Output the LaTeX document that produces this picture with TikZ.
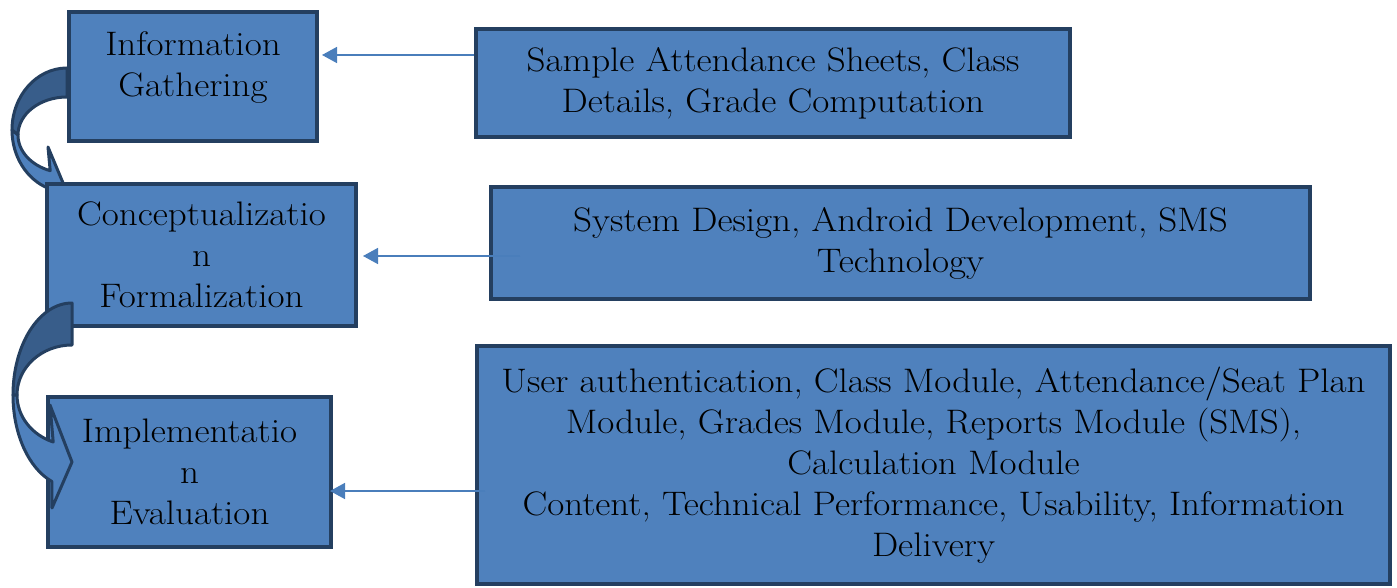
\documentclass[tikz,border=0pt]{standalone}
\usepackage{fontspec}
\setmainfont{Latin Modern Roman}[FakeStretch=1.09]
\usetikzlibrary{arrows.meta,positioning}
\definecolor{boxblue}{HTML}{4F81BD}
\definecolor{boxedge}{HTML}{243F60}
\definecolor{turnblue}{HTML}{385D8A}
\definecolor{linkblue}{HTML}{4A7EBB}

\begin{document}
\begin{tikzpicture}[x=0.5pt, y=-0.5pt,
    stage/.style={draw=boxedge, fill=boxblue, line width=2pt, align=center,
                  inner sep=2pt, font=\fontsize{17}{20.5}\selectfont},
    arr/.style={-{Triangle[length=7.5pt,width=8pt]}, linkblue, line width=0.8pt},
    backface/.style={draw=boxedge, fill=turnblue, line width=1.5pt, line join=round},
    frontface/.style={backface, fill=boxblue}]
  \useasboundingbox (0,0) rectangle (1397,588);

  % stages on the left, with the turning arrows between them
  \node[stage, minimum width=124pt, minimum height=64.5pt] (g1) at (193,76.5)
    {\smash{\begin{tabular}{@{}c@{}}Information\\Gathering\end{tabular}}};
  \draw[backface] (67,68) arc[start angle=270, end angle=180, x radius=55, y radius=62]
    -- (18,135) arc[start angle=180, end angle=270, x radius=49, y radius=38] -- cycle;
  \draw[frontface] (12,130) arc[start angle=180, end angle=110, x radius=55, y radius=62]
    -- (48,215) -- (66,190) -- (48,147) -- (50.2,170.7)
    arc[start angle=110, end angle=180, x radius=49, y radius=38] -- cycle;
  \node[stage, minimum width=154.5pt, minimum height=71pt] (g2) at (201.5,255) {Conceptualizatio\\n\\Formalization};
  \node[stage, minimum width=141.5pt, minimum height=75pt] (g3) at (189.5,472) {Implementatio\\n\\Evaluation};
  \draw[backface] (72,303) arc[start angle=270, end angle=180, x radius=59, y radius=92]
    -- (17,395) arc[start angle=180, end angle=270, x radius=55, y radius=50] -- cycle;
  \draw[frontface] (13,395) arc[start angle=180, end angle=110, x radius=59, y radius=92]
    -- (52,508) -- (72,462) -- (50,405) -- (53.2,442)
    arc[start angle=110, end angle=180, x radius=55, y radius=50] -- cycle;

  % inputs on the right
  \node[stage, minimum width=297pt, minimum height=54pt] (rA) at (773,83) {Sample Attendance Sheets, Class\\Details, Grade Computation};
  \node[stage, minimum width=409.5pt, minimum height=56pt] (rB) at (900.5,243) {System Design, Android Development, SMS\\Technology};
  \node[stage, minimum width=456.5pt, minimum height=119pt] (rC) at (933.5,465) {User authentication, Class Module, Attendance/Seat Plan\\Module, Grades Module, Reports Module (SMS),\\Calculation Module\\Content, Technical Performance, Usability, Information\\Delivery};

  \coordinate (a1) at ([yshift=-14pt]rA.north west);
  \coordinate (b1) at ([yshift=-35.5pt]rB.north west);
  \coordinate (c1) at ([yshift=-73.5pt]rC.north west);
  \draw[arr, shorten >=1.5pt] (a1) -- (a1 -| g1.east);
  \draw[arr, shorten <=-15.5pt, shorten >=2.5pt] (b1) -- (b1 -| g2.east);
  \draw[arr, shorten <=-5pt, shorten >=-1.5pt] (c1) -- (c1 -| g3.east);
\end{tikzpicture}
\end{document}
